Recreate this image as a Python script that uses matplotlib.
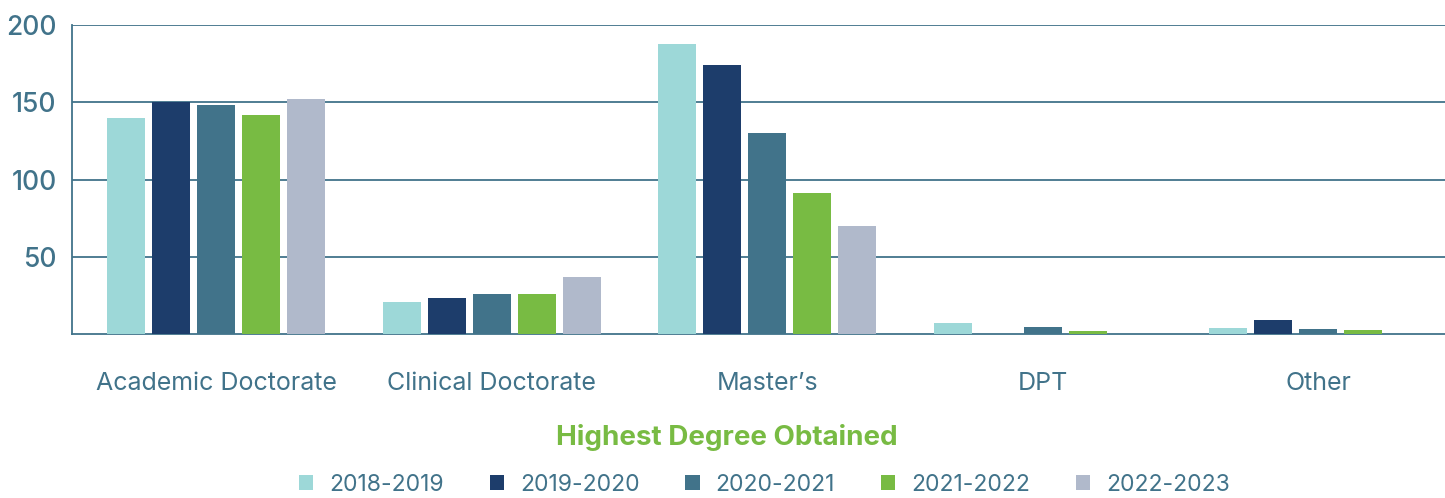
import numpy as np
import matplotlib
matplotlib.use('Agg')
import matplotlib.pyplot as plt
from matplotlib.patches import Patch

# ── data ────────────────────────────────────────────────────────────────────
categories = ["Academic Doctorate", "Clinical Doctorate", "Master\u2019s", "DPT", "Other"]
years = ["2018-2019", "2019-2020", "2020-2021", "2021-2022", "2022-2023"]
v_2018 = [140, 21, 188, 7, 4]
v_2019 = [150, 23, 174, 0, 9]
v_2020 = [148, 26, 130, 4.5, 3]
v_2021 = [142, 26, 91, 2, 2.5]
v_2022 = [152, 37, 70, 0, 0]
series = [v_2018, v_2019, v_2020, v_2021, v_2022]
yticks = [50, 100, 150, 200]

colors = ['#9dd8d8', '#1d3d6b', '#41738a', '#78bb43', '#b0b9cb']
txt_col = '#41738a'
grid_col = '#41738a'

plt.rcParams['font.family'] = ['Inter', 'DejaVu Sans']

fig = plt.figure(figsize=(14.45, 4.98), dpi=100)
ax = fig.add_axes([0.0498, 0.3293, 0.9502, 0.6205])

x = np.arange(len(categories))
step = 0.1633
width = 0.138
for i, vals in enumerate(series):
    ax.bar(x + (i - 2) * step, vals, width=width, color=colors[i], zorder=3)

ax.set_xlim(-0.523, 4.46)
ax.set_ylim(0, 200)
ax.set_yticks(yticks)
ax.set_yticklabels([str(t) for t in yticks], fontsize=19, color=txt_col,
                   fontweight='medium')
ax.tick_params(axis='y', length=0, pad=11)
ax.set_xticks(x)
ax.set_xticklabels(categories, fontsize=18, color=txt_col)
ax.tick_params(axis='x', length=0, pad=27)

ax.yaxis.grid(True, color=grid_col, lw=1.3, zorder=1)
for s in ['top', 'right']:
    ax.spines[s].set_visible(False)
for s in ['left', 'bottom']:
    ax.spines[s].set_color(grid_col)
    ax.spines[s].set_linewidth(1.3)

fig.text(0.503, 0.122, "Highest Degree Obtained", ha='center', va='center',
         fontsize=20, fontweight='bold', color='#78bb43')

handles = [Patch(facecolor=c, edgecolor='none') for c in colors]
leg = fig.legend(handles, years, loc='center', bbox_to_anchor=(0.529, 0.027),
                 ncol=5, frameon=False, fontsize=16.5, handlelength=0.62,
                 handleheight=0.62, handletextpad=0.7, columnspacing=2.0,
                 borderpad=0.1)
for t in leg.get_texts():
    t.set_color(txt_col)

fig.savefig('out.png', dpi=100)
